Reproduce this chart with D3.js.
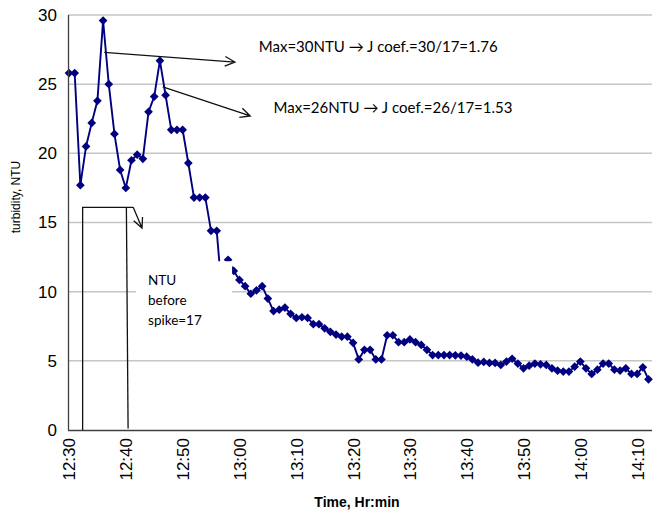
<!DOCTYPE html>
<html lang="en">
<head>
<meta charset="UTF-8">
<title>Turbidity</title>
<script src="https://cdn.jsdelivr.net/npm/d3@7"></script>
<style>
    body { margin: 0; background: #fff; }
    .grid line { stroke: #c6c6c6; stroke-width: 1.5; }
    .axis path { stroke: #404040; stroke-width: 1.3; }
    .axis text { font-family: "Liberation Sans", Arial, sans-serif; font-size: 17px; fill: #000; }
    .note { font-family: Lato, "Open Sans", sans-serif; font-size: 15px; fill: #000; }
    .box-note { font-family: Lato, "Open Sans", sans-serif; font-size: 13.5px; fill: #000; }
    .arrow { fill: none; stroke: #111; stroke-width: 1.3; }
</style>
</head>
<body>
<script>
    // one reading per minute starting at 12:30
    const startTime = "12:30";
    const turbidity = [
        25.8, 25.8, 17.7, 20.5, 22.2, 23.8, 29.6, 25.0, 21.4, 18.8,
        17.5, 19.5, 19.9, 19.6, 23.0, 24.1, 26.7, 24.2, 21.7, 21.7,
        21.7, 19.3, 16.8, 16.8, 16.8, 14.4, 14.4, 9.5, 12.3, 11.5,
        10.85, 10.4, 9.85, 10.1, 10.4, 9.5, 8.6, 8.7, 8.85, 8.4,
        8.1, 8.15, 8.1, 7.65, 7.65, 7.35, 7.1, 6.9, 6.75, 6.75,
        6.3, 5.1, 5.8, 5.8, 5.1, 5.1, 6.85, 6.85, 6.35, 6.35,
        6.55, 6.35, 6.15, 5.8, 5.42, 5.42, 5.42, 5.42, 5.4, 5.38,
        5.3, 5.1, 4.87, 4.92, 4.85, 4.85, 4.7, 4.95, 5.15, 4.8,
        4.46, 4.65, 4.8, 4.75, 4.7, 4.46, 4.29, 4.22, 4.22, 4.58,
        4.95, 4.46, 4.05, 4.36, 4.8, 4.8, 4.36, 4.3, 4.46, 4.05,
        4.05, 4.53, 3.66
    ];
    const yTicks = [0, 5, 10, 15, 20, 25, 30];
    const xTickLabels = ["12:30", "12:40", "12:50", "13:00", "13:10", "13:20",
                         "13:30", "13:40", "13:50", "14:00", "14:10"];

    // annotations in data units: [minutes after start, NTU]
    const peakArrows = [
        { from: [6.2, 27.3], to: [29.2, 26.6] },
        { from: [16.5, 24.8], to: [31.9, 22.7] }
    ];
    const peakNotes = [
        { at: [33.4, 27.3], text: "Max=30NTU \u2192 J coef.=30/17=1.76" },
        { at: [36.0, 22.9], text: "Max=26NTU \u2192 J coef.=26/17=1.53" }
    ];
    const bracket = [[2.4, 0], [2.4, 16.1], [11.3, 16.1]];
    const bracketRight = [[10.1, 16.1], [10.4, 0.1]];
    const bracketArrow = { from: [11.3, 16.1], to: [12.85, 14.6] };
    const baseBox = { x0: 11.8, x1: 28.7, y0: 12.2, y1: 6.9 };
    const baseNote = ["NTU", "before", "spike=17"];

    const width = 660, height = 515;
    const plot = { left: 68, top: 15, right: 652, bottom: 430 };

    const svg = d3.select("body").append("svg")
                  .attr("width", width)
                  .attr("height", height);

    const parse = d3.timeParse("%H:%M");
    const t0 = parse(startTime);
    const times = turbidity.map((d, i) => d3.timeMinute.offset(t0, i));

    const x = d3.scaleTime()
                .domain([t0, times[times.length - 1]])
                .range([69, 648.5]);
    const y = d3.scaleLinear().domain([0, 30]).range([plot.bottom, plot.top]);

    const xm = m => x(new Date(+t0 + m * 60000));

    // horizontal gridlines
    svg.append("g").attr("class", "grid")
       .selectAll("line")
       .data(yTicks.filter(v => v > 0))
       .join("line")
       .attr("x1", plot.left).attr("x2", plot.right)
       .attr("y1", d => y(d)).attr("y2", d => y(d));

    // series
    const line = d3.line().x((d, i) => x(times[i])).y(d => y(d));
    svg.append("path")
       .datum(turbidity)
       .attr("fill", "none")
       .attr("stroke", "#000080")
       .attr("stroke-width", 1.9)
       .attr("d", line);

    svg.append("g")
       .selectAll("path")
       .data(turbidity)
       .join("path")
       .attr("d", d3.symbol(d3.symbolSquare, 38))
       .attr("fill", "#000080")
       .attr("transform", (d, i) => `translate(${x(times[i])},${y(d)}) rotate(45)`);

    // white text box that hides part of the curve
    svg.append("rect")
       .attr("x", xm(baseBox.x0)).attr("y", y(baseBox.y0))
       .attr("width", xm(baseBox.x1) - xm(baseBox.x0))
       .attr("height", y(baseBox.y1) - y(baseBox.y0))
       .attr("fill", "#fff");

    svg.append("g")
       .selectAll("text")
       .data(baseNote)
       .join("text")
       .attr("class", "box-note")
       .attr("x", xm(baseBox.x0) + 12)
       .attr("y", (d, i) => y(baseBox.y0) + 24 + i * 20)
       .text(d => d);

    // axes
    const xAxis = svg.append("g").attr("class", "axis")
       .attr("transform", `translate(0,${plot.bottom})`)
       .call(d3.axisBottom(x)
                .tickValues(xTickLabels.map(parse))
                .tickFormat(d3.timeFormat("%H:%M"))
                .tickSize(0));
    xAxis.select(".domain").attr("d", `M${plot.left},0.5H${plot.right}`);
    xAxis.selectAll(".tick text")
         .attr("transform", "rotate(-90)")
         .attr("text-anchor", "end")
         .attr("x", -8).attr("y", 0).attr("dy", "0.35em");

    const yAxis = svg.append("g").attr("class", "axis")
       .attr("transform", `translate(${plot.left},0)`)
       .call(d3.axisLeft(y).tickValues(yTicks).tickSize(0).tickPadding(11));
    yAxis.select(".domain").attr("d", `M0.5,${plot.top}V${plot.bottom}`);

    svg.append("text")
       .attr("x", 357).attr("y", 507)
       .attr("text-anchor", "middle")
       .style("font-family", "'Liberation Sans Narrow', 'Liberation Sans', Arial, sans-serif")
       .style("font-weight", "bold")
       .style("font-size", "14px")
       .text("Time, Hr:min");

    svg.append("text")
       .attr("transform", "translate(20,197) rotate(-90)")
       .attr("text-anchor", "middle")
       .style("font-family", "'Liberation Sans', Arial, sans-serif")
       .style("font-size", "12px")
       .text("turbidity, NTU");

    // arrows and bracket
    const toPx = p => [xm(p[0]), y(p[1])];
    function arrow(a) {
        const [x1, y1] = toPx(a.from), [x2, y2] = toPx(a.to);
        const ang = Math.atan2(y2 - y1, x2 - x1), len = 11, spread = 0.45;
        const head = [
            [x2 - len * Math.cos(ang - spread), y2 - len * Math.sin(ang - spread)],
            [x2, y2],
            [x2 - len * Math.cos(ang + spread), y2 - len * Math.sin(ang + spread)]
        ];
        svg.append("path").attr("class", "arrow")
           .attr("d", d3.line()([[x1, y1], [x2, y2]]) + d3.line()(head));
    }
    peakArrows.forEach(arrow);
    arrow(bracketArrow);

    svg.append("path").attr("class", "arrow")
       .attr("d", d3.line()(bracket.map(toPx)));
    svg.append("path").attr("class", "arrow")
       .attr("d", d3.line()(bracketRight.map(toPx)));

    svg.append("g")
       .selectAll("text")
       .data(peakNotes)
       .join("text")
       .attr("class", "note")
       .attr("x", d => xm(d.at[0]))
       .attr("y", d => y(d.at[1]))
       .text(d => d.text);
</script>
</body>
</html>
